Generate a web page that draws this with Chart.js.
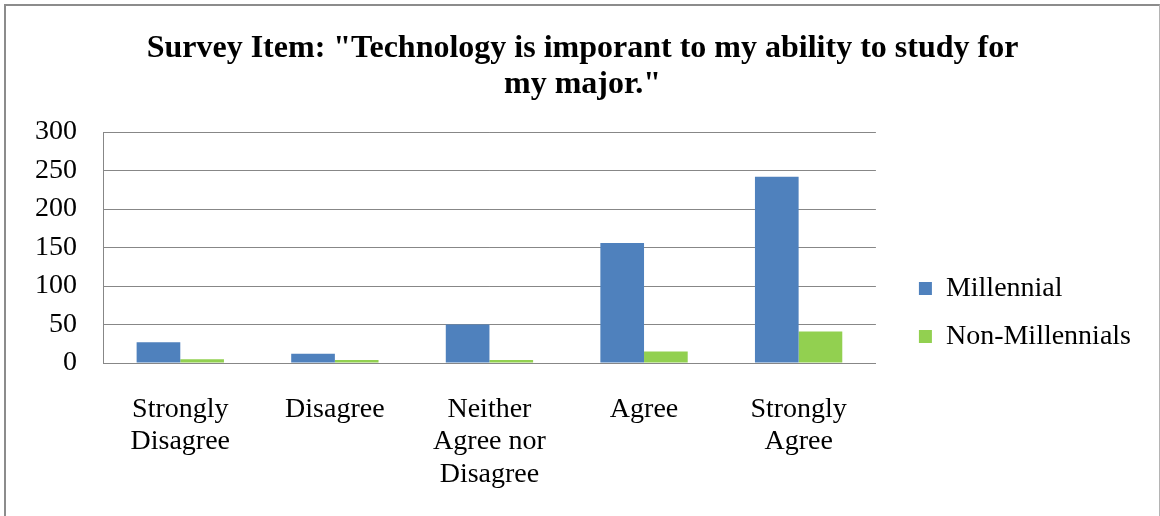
<!DOCTYPE html>
<html>
<head>
<meta charset="utf-8">
<script src="https://cdn.jsdelivr.net/npm/chart.js@4/dist/chart.umd.min.js"></script>
<style>
  html, body { margin: 0; padding: 0; background: #fff; overflow: hidden; }
  #frame {
    position: absolute; left: 4px; top: 4px;
    width: 1153px; height: 520px;
    border-left: 2px solid #8c8c8c;
    border-top: 2px solid #8c8c8c;
    border-right: 1px solid #b4b4b4;
    background: #fff;
  }
  #wrap { position: absolute; left: 0; top: 0; width: 1153px; height: 510px; }
</style>
</head>
<body>
<div id="frame"><div id="wrap"><canvas id="c"></canvas></div></div>
<script>
const titleLines = ['Survey Item: "Technology is imporant to my ability to study for', 'my major."'];
const categories = [
  ['Strongly', 'Disagree'],
  ['Disagree'],
  ['Neither', 'Agree nor', 'Disagree'],
  ['Agree'],
  ['Strongly', 'Agree']
];
const millennial = [27, 12, 50, 156, 242];
const nonMillennials = [5, 4, 4, 15, 41];
const seriesNames = ['Millennial', 'Non-Millennials'];
const yTicks = { min: 0, max: 300, step: 50 };

const FONT = "'Liberation Serif', 'Times New Roman', serif";
const GRID = '#878787';

// centre the title on the whole frame rather than on the padded box
const titleCentre = {
  id: 'titleCentre',
  afterLayout(chart) {
    const t = chart.titleBlock;
    if (!t) return;
    const shift = chart.width / 2 - (t.left + t.right) / 2;
    t.left += shift;
    t.right += shift;
  }
};

new Chart(document.getElementById('c'), {
  type: 'bar',
  data: {
    labels: categories,
    datasets: [
      { label: seriesNames[0], data: millennial, backgroundColor: '#4F81BD', borderWidth: 0 },
      { label: seriesNames[1], data: nonMillennials, backgroundColor: '#92D050', borderWidth: 0 }
    ]
  },
  plugins: [titleCentre],
  options: {
    responsive: true,
    maintainAspectRatio: false,
    animation: false,
    events: [],
    layout: { padding: { left: 0, right: 18, top: 0, bottom: 0 } },
    datasets: { bar: { categoryPercentage: 0.565, barPercentage: 1.0 } },
    plugins: {
      title: {
        display: true,
        text: titleLines,
        color: '#000',
        font: { family: FONT, size: 32, weight: 'bold', lineHeight: 36 / 32 },
        padding: { top: 25, bottom: 29 }
      },
      legend: {
        display: true,
        position: 'right',
        align: 'center',
        maxWidth: 400,
        title: { display: true, text: ' ', font: { size: 10, lineHeight: 1.2 }, padding: { top: 0, bottom: 91 } },
        labels: {
          color: '#000',
          font: { family: FONT, size: 28 },
          boxWidth: 13,
          boxHeight: 13,
          padding: 20
        }
      },
      tooltip: { enabled: false }
    },
    scales: {
      x: {
        grid: { display: false, drawTicks: false },
        border: { display: true, color: GRID, width: 1 },
        ticks: {
          color: '#000',
          font: { family: FONT, size: 28, lineHeight: 32.5 / 28 },
          padding: 30,
          maxRotation: 0,
          autoSkip: false
        },
        afterFit(s) { s.height = 153; }
      },
      y: {
        min: yTicks.min,
        max: yTicks.max,
        grid: { color: GRID, lineWidth: 1, drawTicks: false },
        border: { display: true, color: GRID, width: 1 },
        ticks: {
          stepSize: yTicks.step,
          color: '#000',
          font: { family: FONT, size: 28 },
          padding: 26
        },
        afterFit(s) { s.width = 97; }
      },
      y2: {
        position: 'right',
        display: true,
        grid: { display: false, drawTicks: false },
        border: { display: false },
        ticks: { display: false },
        afterFit(s) { s.width = 23; }
      }
    }
  }
});
</script>
</body>
</html>
